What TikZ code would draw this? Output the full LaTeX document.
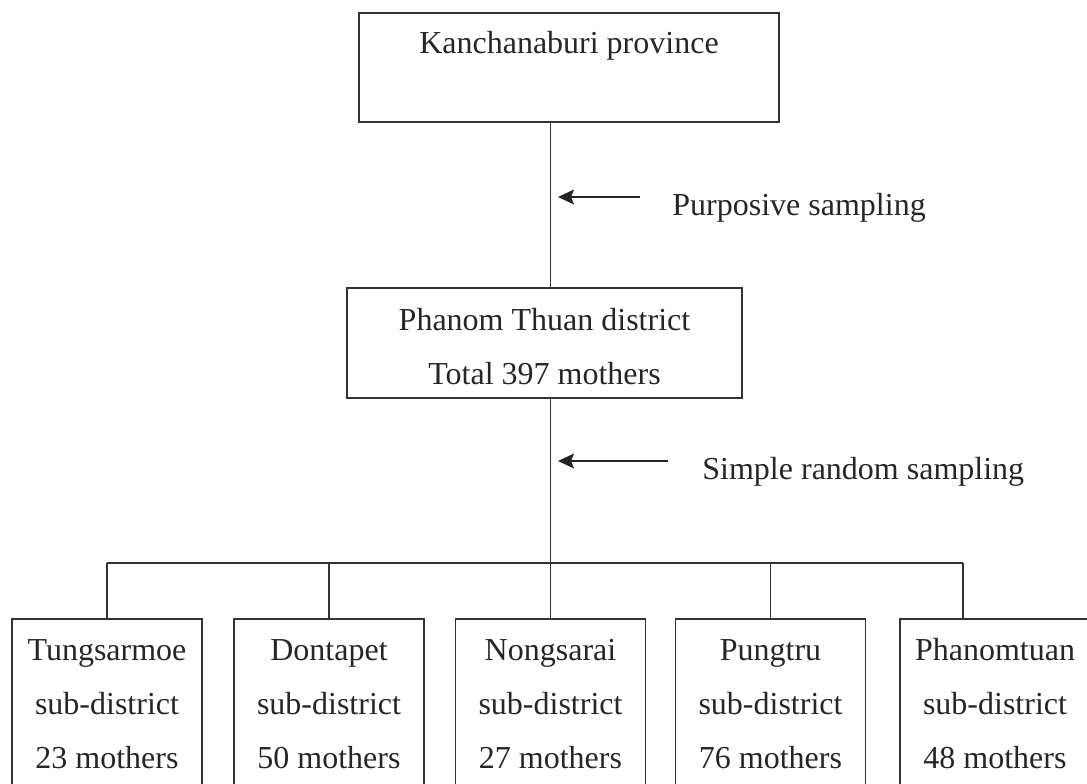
\documentclass[tikz,border=0pt]{standalone}
\usepackage{fontspec}
\setmainfont{Liberation Serif}
\usetikzlibrary{arrows.meta}

\begin{document}
\begin{tikzpicture}[x=0.5pt,y=-0.5pt,
		every node/.style={font=\fontsize{16}{27}\selectfont, text=black!85},
		box/.style={draw=black!80, line width=0.9pt, inner sep=0pt, align=flush center, anchor=north},
		topbox/.style={box, text width=210pt, text height=20.5pt, text depth=34pt},
		midbox/.style={box, text width=197.5pt, text height=21.5pt, text depth=33.5pt},
		subbox/.style={box, text width=95pt, text height=21pt, text depth=65pt},
		link/.style={draw=black!80, line width=0.85pt},
		pointer/.style={draw=black!85, line width=0.75pt, -{Stealth[length=8pt,width=7.5pt,inset=1.5pt]}}]
	\useasboundingbox (0,0) rectangle (1087,783);
	\node[topbox] (prov) at (569,12) {Kanchanaburi province};
	\node[midbox] (dist) at (544.5,287) {Phanom Thuan district\\Total 397 mothers};
	\node[subbox] (s1) at (107,618) {Tungsarmoe\\sub-district\\23 mothers};
	\node[subbox] (s2) at (329,618) {Dontapet\\sub-district\\50 mothers};
	\node[subbox] (s3) at (550.5,618) {Nongsarai\\sub-district\\27 mothers};
	\node[subbox] (s4) at (770.5,618) {Pungtru\\sub-district\\76 mothers};
	\node[subbox] (s5) at (995,618) {Phanomtuan\\sub-district\\48 mothers};
	\node[anchor=base west, inner sep=0pt] (purp) at (672,215) {Purposive sampling};
	\node[anchor=base west, inner sep=0pt] (rand) at (702,479) {Simple random sampling};
	\coordinate (tip1) at (558,197);
	\coordinate (tip2) at (558,461);
	\coordinate (bus) at (550.5,563);
	\coordinate (drop) at (963,618);
	\draw[link] (prov.south -| bus) -- (dist.north -| bus);
	\draw[link] (dist.south -| bus) -- (bus);
	\draw[link] (s1.north |- bus) -- (drop |- bus);
	\foreach \n in {s1,s2,s3,s4}
		\draw[link] (\n.north |- bus) -- (\n.north);
	\draw[link] (drop |- bus) -- (drop);
	\draw[pointer] (purp.west |- tip1) ++(-32,0) -- (tip1);
	\draw[pointer] (rand.west |- tip2) ++(-34,0) -- (tip2);
\end{tikzpicture}
\end{document}
